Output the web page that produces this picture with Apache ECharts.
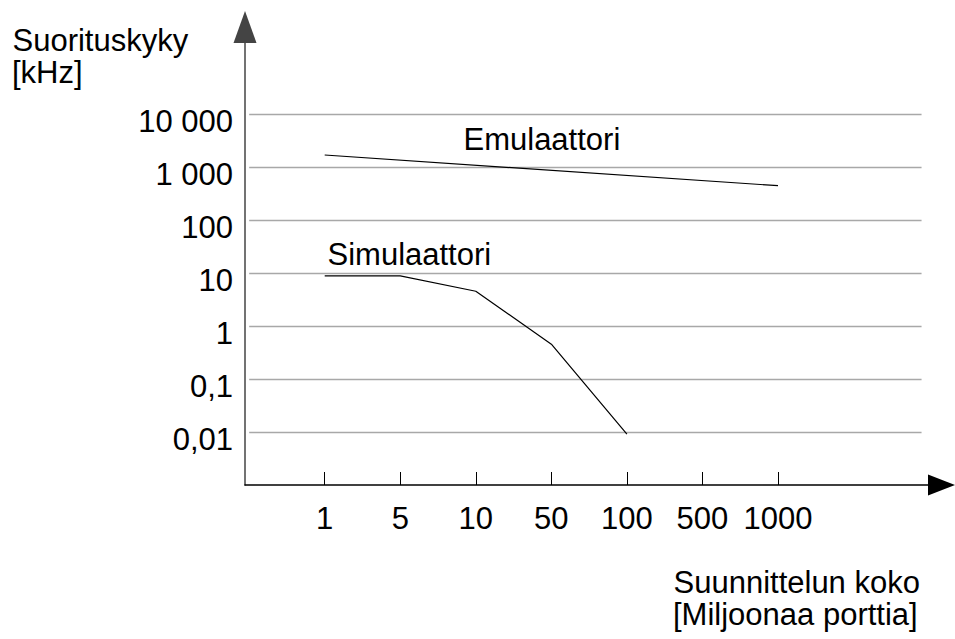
<!DOCTYPE html>
<html>
<head>
<meta charset="utf-8">
<script src="https://cdn.jsdelivr.net/npm/echarts@6/dist/echarts.min.js"></script>
<style>
  html, body { margin: 0; padding: 0; background: #fff; }
  #chart { width: 955px; height: 639px; }
</style>
</head>
<body>
<div id="chart"></div>
<script>
// ---- data ----
const xLabels = ['1', '5', '10', '50', '100', '500', '1000'];
const emuValues = [1730, null, null, null, null, null, 455];
const simValues = [9.0, 9.0, 4.6, 0.46, 0.0092, null, null];
const yTickValues = [0.01, 0.1, 1, 10, 100, 1000, 10000];
const yTickLabels = ['0,01', '0,1', '1', '10', '100', '1 000', '10 000'];
const emuName = 'Emulaattori';
const simName = 'Simulaattori';
const yTitle = ['Suorituskyky', '[kHz]'];
const xTitle = ['Suunnittelun koko', '[Miljoonaa porttia]'];

// ---- layout / style ----
const FONT = '"Liberation Sans", Arial, sans-serif';
const FS = 31;
const TFS = 30;
const gridX0 = -1.0, gridX1 = 7.9;
const idx = xLabels.map((_, i) => i);

function pairs(vals) { return vals.map((v, i) => [i, v]); }
function yLabel(v) {
  const i = yTickValues.findIndex(t => Math.abs(Math.log10(t) - Math.log10(v)) < 1e-6);
  return i >= 0 ? yTickLabels[i] : '';
}
function txt(x, y, s, size) {
  return { type: 'text', x: x, y: y, style: { text: s, font: size + 'px ' + FONT, fill: '#000', verticalAlign: 'middle' } };
}

const chart = echarts.init(document.getElementById('chart'), null, { renderer: 'svg' });
chart.setOption({
  animation: false,
  backgroundColor: '#fff',
  grid: { left: 245, right: 13.5, top: 27, bottom: 154 },
  xAxis: {
    type: 'value', min: -1.055, max: 8.164,
    axisLine: { show: true, onZero: false, symbol: ['none', 'triangle'], symbolSize: [21, 27],
      lineStyle: { color: '#000', width: 1.5 } },
    axisTick: { show: true, inside: true, length: 13, customValues: idx, lineStyle: { color: '#000', width: 1 } },
    axisLabel: { customValues: idx, formatter: v => xLabels[Math.round(v)], margin: 18,
      fontSize: FS, color: '#000', fontFamily: FONT },
    splitLine: { show: false }
  },
  yAxis: {
    type: 'log', min: 0.001, max: 4.55e5,
    axisLine: { show: true, onZero: false, symbol: ['none', 'triangle'], symbolSize: [23, 32],
      lineStyle: { color: '#444', width: 1.5 } },
    axisTick: { show: false },
    axisLabel: { customValues: yTickValues, formatter: yLabel, margin: 12,
      fontSize: FS, color: '#000', fontFamily: FONT, verticalAlign: 'top', lineHeight: 14 },
    splitLine: { show: false }
  },
  series: [
    {
      name: emuName, type: 'line', data: pairs(emuValues), connectNulls: true, showSymbol: false, symbol: 'none',
      lineStyle: { color: '#000', width: 1.2 }, z: 5,
      markLine: {
        silent: true, symbol: 'none', label: { show: false },
        lineStyle: { color: '#a8a8a8', width: 1.3, type: 'solid' },
        data: yTickValues.map(v => [{ coord: [gridX0, v] }, { coord: [gridX1, v] }])
      }
    },
    {
      name: simName, type: 'line', data: pairs(simValues), connectNulls: false, showSymbol: false, symbol: 'none',
      lineStyle: { color: '#000', width: 1.2 }, z: 5
    }
  ],
  graphic: [
    txt(12.5, 40, yTitle[0], TFS + 1),
    txt(12, 72.5, yTitle[1], TFS + 1),
    txt(673.5, 582, xTitle[0], TFS + 1),
    txt(673, 614.5, xTitle[1], TFS + 1),
    txt(463.5, 139, emuName, FS),
    txt(327.5, 254, simName, FS)
  ]
});
</script>
</body>
</html>
